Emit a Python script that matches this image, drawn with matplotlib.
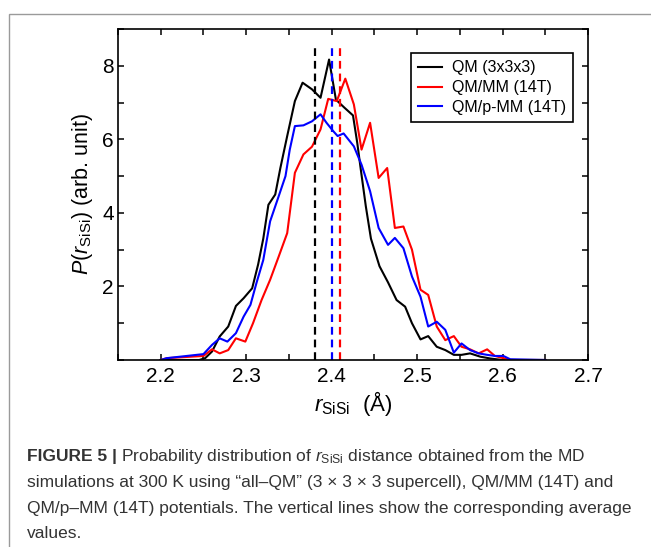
import matplotlib
matplotlib.use('Agg')
import matplotlib.pyplot as plt
import matplotlib.ticker as ticker
from matplotlib.patches import Rectangle

plt.rcParams['font.family'] = ['Liberation Sans', 'DejaVu Sans']
plt.rcParams['mathtext.fontset'] = 'custom'
plt.rcParams['mathtext.rm'] = 'Liberation Sans'
plt.rcParams['mathtext.it'] = 'Liberation Sans:italic'
plt.rcParams['mathtext.bf'] = 'Liberation Sans:bold'

# --- data ---
qm_x = [2.20, 2.245, 2.252, 2.260, 2.269, 2.279, 2.288, 2.297, 2.307, 2.314, 2.320,
        2.326, 2.334, 2.340, 2.348, 2.357, 2.366, 2.377, 2.387, 2.397, 2.405, 2.415,
        2.425, 2.430, 2.434, 2.440, 2.446, 2.456, 2.466, 2.476, 2.486, 2.494, 2.504,
        2.513, 2.523, 2.533, 2.543, 2.552, 2.562, 2.574, 2.586, 2.60, 2.65]
qm_y = [0.0, 0.0, 0.05, 0.23, 0.64, 0.91, 1.47, 1.68, 1.95, 2.60, 3.30,
        4.22, 4.50, 5.22, 6.09, 7.04, 7.54, 7.36, 7.13, 8.17, 7.08, 6.86,
        6.65, 5.90, 5.20, 4.18, 3.30, 2.55, 2.11, 1.63, 1.45, 1.00, 0.56,
        0.65, 0.36, 0.27, 0.14, 0.14, 0.18, 0.09, 0.04, 0.0, 0.0]

mm_x = [2.20, 2.207, 2.250, 2.260, 2.269, 2.279, 2.288, 2.299, 2.308, 2.318, 2.328,
        2.338, 2.348, 2.357, 2.367, 2.377, 2.387, 2.396, 2.406, 2.416, 2.426, 2.435,
        2.445, 2.455, 2.465, 2.474, 2.484, 2.494, 2.504, 2.513, 2.523, 2.533, 2.543,
        2.552, 2.562, 2.572, 2.582, 2.591, 2.601, 2.609, 2.65]
mm_y = [0.0, 0.05, 0.11, 0.29, 0.18, 0.27, 0.59, 0.50, 1.00, 1.63, 2.18,
        2.81, 3.45, 5.09, 5.59, 5.80, 6.27, 7.10, 7.04, 7.65, 6.95, 5.72,
        6.45, 4.95, 5.22, 3.59, 3.63, 3.00, 1.91, 1.77, 0.91, 0.54, 0.65,
        0.36, 0.29, 0.18, 0.29, 0.11, 0.05, 0.0, 0.0]

pmm_x = [2.20, 2.207, 2.250, 2.260, 2.269, 2.278, 2.288, 2.297, 2.305, 2.312, 2.320,
         2.328, 2.338, 2.346, 2.351, 2.357, 2.367, 2.377, 2.387, 2.394, 2.402, 2.407,
         2.414, 2.426, 2.435, 2.445, 2.455, 2.466, 2.474, 2.484, 2.494, 2.504, 2.513,
         2.523, 2.533, 2.543, 2.552, 2.562, 2.572, 2.582, 2.591, 2.601, 2.609, 2.65]
pmm_y = [0.0, 0.05, 0.16, 0.41, 0.59, 0.50, 0.73, 1.18, 1.50, 2.09, 2.72,
         3.77, 4.45, 5.00, 5.72, 6.36, 6.38, 6.49, 6.68, 6.45, 6.22, 6.09,
         6.16, 5.81, 5.31, 4.59, 3.59, 3.13, 3.32, 3.04, 2.27, 1.72, 0.91,
         1.04, 0.82, 0.20, 0.45, 0.27, 0.18, 0.14, 0.11, 0.11, 0.02, 0.0]

labels = ['QM (3x3x3)', 'QM/MM (14T)', 'QM/p-MM (14T)']
colors = ['black', 'red', 'blue']
averages = [2.38, 2.41, 2.40]   # black, red, blue

fig = plt.figure(figsize=(6.51, 5.47), dpi=100)

# grey frame around the figure panel (runs off the right/bottom edge)
fig.patches.append(Rectangle((9/651, -0.05), 1.0, 1 - 14/547 + 0.05,
                             transform=fig.transFigure, fill=False,
                             edgecolor='#9a9a9a', linewidth=1.0))

ax = fig.add_axes([118/651, 1 - 360/547, 470/651, 331/547])

ax.plot(qm_x, qm_y, color=colors[0], lw=1.5, label=labels[0])
ax.plot(mm_x, mm_y, color=colors[1], lw=1.5, label=labels[1])
ax.plot(pmm_x, pmm_y, color=colors[2], lw=1.5, label=labels[2])

for xv, c in zip(averages, colors):
    ax.plot([xv, xv], [0, 8.5], color=c, lw=1.6, ls=(0, (3.5, 2.2)))

ax.set_xlim(2.15, 2.7)
ax.set_ylim(0, 9)
ax.xaxis.set_major_locator(ticker.MultipleLocator(0.1))
ax.xaxis.set_minor_locator(ticker.MultipleLocator(0.05))
ax.set_yticks([2, 4, 6, 8])
ax.yaxis.set_minor_locator(ticker.MultipleLocator(1))
ax.xaxis.set_major_formatter(ticker.FormatStrFormatter('%.1f'))
ax.tick_params(which='both', direction='in', top=True, right=True,
               length=4.5, width=1.1, labelsize=15)
ax.tick_params(axis='y', pad=3)
ax.tick_params(axis='x', pad=5)
for s in ax.spines.values():
    s.set_linewidth(1.2)

ax.set_xlabel(r'$\it{r}_{\rm{SiSi}}$  (Å)', fontsize=16, labelpad=2)
ax.set_ylabel(r'$\it{P}\rm{(}\it{r}_{\rm{SiSi}}\rm{)}$ (arb. unit)', fontsize=15.5, labelpad=5)

leg = ax.legend(loc='upper right', bbox_to_anchor=(0.968, 0.927), borderaxespad=0,
                fontsize=11.5, handlelength=1.5, handletextpad=0.6, labelspacing=0.3,
                fancybox=False, framealpha=1, borderpad=0.45)
leg.get_frame().set_edgecolor('black')
leg.get_frame().set_linewidth(1.2)

# caption
cap_color = '#333333'
cap_size = 12.5
x0 = 27/651
fig.canvas.draw()
r = fig.canvas.get_renderer()
t = fig.text(x0, 1 - 457/547, 'FIGURE 5 |', fontsize=cap_size, fontweight='bold',
             color=cap_color, va='center')
bb = t.get_window_extent(renderer=r)
fig.text(bb.x1 / fig.bbox.width + 4/651, 1 - 457/547,
         r'Probability distribution of $\it{r}_{\rm{SiSi}}$ distance obtained from the MD',
         fontsize=cap_size, color=cap_color, va='center')
lines = ['simulations at 300 K using “all–QM” (3 × 3 × 3 supercell), QM/MM (14T) and',
         'QM/p–MM (14T) potentials. The vertical lines show the corresponding average',
         'values.']
for i, ln in enumerate(lines):
    fig.text(x0, 1 - (483 + 25.5*i)/547, ln, fontsize=cap_size, color=cap_color, va='center')

fig.savefig('out.png', dpi=100)
